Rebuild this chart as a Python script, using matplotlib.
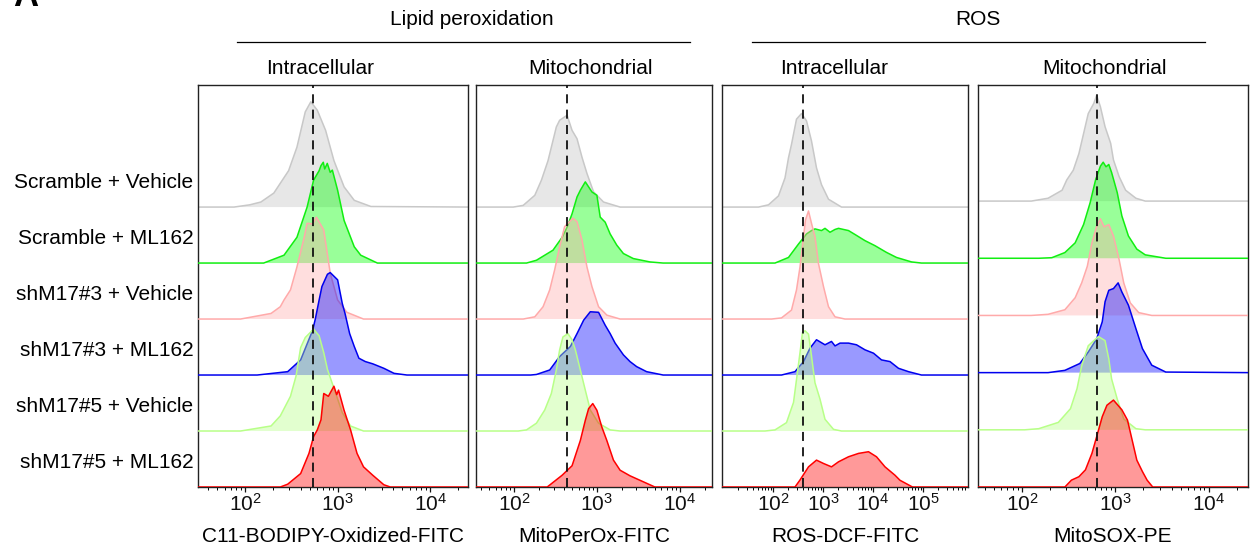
import matplotlib
matplotlib.use('Agg')
import numpy as np
import matplotlib.pyplot as plt
import matplotlib.transforms as mtransforms
from matplotlib.lines import Line2D
from matplotlib.ticker import FixedLocator, LogLocator, LogFormatterMathtext, NullFormatter

plt.rcParams['font.family'] = ['Liberation Sans', 'DejaVu Sans']
plt.rcParams['mathtext.fontset'] = 'custom'
plt.rcParams['mathtext.rm'] = 'Liberation Sans'
plt.rcParams['mathtext.default'] = 'regular'

# ---------------- data ----------------
samples = ['Scramble + Vehicle', 'Scramble + ML162', 'shM17#3 + Vehicle',
           'shM17#3 + ML162', 'shM17#5 + Vehicle', 'shM17#5 + ML162']
group_titles = ['Lipid peroxidation', 'ROS']
panel_titles = ['Intracellular', 'Mitochondrial', 'Intracellular', 'Mitochondrial']
channel_labels = ['C11-BODIPY-Oxidized-FITC', 'MitoPerOx-FITC', 'ROS-DCF-FITC', 'MitoSOX-PE']
major_decades = [[2, 3, 4], [2, 3, 4], [2, 3, 4, 5], [2, 3, 4]]
gate_log10 = [2.73, 2.64, 2.60, 2.80]   # dashed reference line (log10 intensity)

# histograms: log10 intensity and normalised height (one list per sample)
bodipy_log = [
    [1.88, 2.05, 2.17, 2.31, 2.47, 2.56, 2.65, 2.71, 2.78, 2.87, 2.96, 3.07, 3.18, 3.36],
    [2.20, 2.42, 2.56, 2.67, 2.74, 2.80, 2.82, 2.845, 2.86, 2.888, 2.92, 2.943, 3.00, 3.07, 3.18, 3.25, 3.43],
    [1.95, 2.28, 2.38, 2.42, 2.49, 2.56, 2.64, 2.67, 2.73, 2.77, 2.85, 2.92, 3.00, 3.10, 3.28],
    [2.13, 2.46, 2.60, 2.73, 2.76, 2.80, 2.83, 2.89, 2.92, 3.00, 3.05, 3.08, 3.13, 3.18, 3.23, 3.30, 3.38, 3.50, 3.61, 3.75],
    [1.95, 2.28, 2.38, 2.49, 2.55, 2.60, 2.65, 2.74, 2.80, 2.85, 2.89, 2.94, 3.05, 3.14, 3.28],
    [2.38, 2.46, 2.60, 2.69, 2.74, 2.78, 2.82, 2.85, 2.90, 2.96, 2.99, 3.01, 3.07, 3.14, 3.21, 3.28, 3.38, 3.50, 3.57],
]
bodipy_h = [
    [0.00, 0.04, 0.09, 0.25, 0.65, 1.07, 1.70, 1.88, 1.73, 1.37, 0.83, 0.36, 0.12, 0.01],
    [0.00, 0.14, 0.46, 1.00, 1.48, 1.65, 1.74, 1.80, 1.68, 1.78, 1.62, 1.66, 1.30, 0.76, 0.29, 0.14, 0.00],
    [0.00, 0.10, 0.22, 0.34, 0.52, 0.93, 1.47, 1.71, 1.70, 1.82, 1.59, 0.82, 0.34, 0.12, 0.00],
    [0.00, 0.06, 0.27, 0.80, 1.01, 1.34, 1.58, 1.80, 1.83, 1.70, 1.28, 1.10, 0.74, 0.51, 0.30, 0.24, 0.20, 0.12, 0.03, 0.00],
    [0.00, 0.09, 0.27, 0.62, 0.98, 1.49, 1.67, 1.82, 1.70, 1.40, 1.10, 0.86, 0.33, 0.09, 0.00],
    [0.00, 0.05, 0.24, 0.60, 0.90, 1.02, 1.20, 1.67, 1.62, 1.80, 1.65, 1.73, 1.37, 1.02, 0.60, 0.36, 0.21, 0.04, 0.00],
]

mitoperox_log = [
    [1.99, 2.11, 2.25, 2.33, 2.41, 2.45, 2.51, 2.55, 2.64, 2.70, 2.76, 2.82, 2.88, 2.96, 3.08, 3.28],
    [2.15, 2.27, 2.47, 2.58, 2.64, 2.70, 2.76, 2.80, 2.86, 2.90, 2.94, 3.00, 3.04, 3.10, 3.16, 3.24, 3.32, 3.44, 3.64, 3.80],
    [2.11, 2.25, 2.35, 2.43, 2.49, 2.55, 2.61, 2.65, 2.71, 2.76, 2.82, 2.88, 2.94, 3.02, 3.12, 3.28],
    [2.20, 2.27, 2.43, 2.55, 2.68, 2.76, 2.84, 2.92, 3.02, 3.10, 3.16, 3.22, 3.32, 3.40, 3.48, 3.60, 3.80],
    [2.05, 2.15, 2.27, 2.37, 2.45, 2.51, 2.55, 2.59, 2.65, 2.70, 2.74, 2.80, 2.86, 2.92, 3.02, 3.16, 3.28],
    [2.40, 2.58, 2.70, 2.80, 2.86, 2.90, 2.95, 3.00, 3.06, 3.12, 3.20, 3.28, 3.40, 3.55, 3.70],
]
mitoperox_h = [
    [0.00, 0.03, 0.21, 0.48, 0.83, 1.07, 1.43, 1.55, 1.64, 1.37, 1.22, 0.89, 0.60, 0.27, 0.09, 0.00],
    [0.00, 0.05, 0.23, 0.46, 0.64, 0.88, 1.18, 1.30, 1.45, 1.36, 1.27, 1.21, 0.82, 0.73, 0.52, 0.32, 0.17, 0.08, 0.02, 0.00],
    [0.00, 0.04, 0.22, 0.52, 0.88, 1.29, 1.65, 1.71, 1.80, 1.74, 1.41, 0.93, 0.58, 0.22, 0.07, 0.00],
    [0.00, 0.01, 0.09, 0.33, 0.51, 0.74, 0.98, 1.13, 1.12, 0.89, 0.74, 0.57, 0.36, 0.24, 0.15, 0.06, 0.00],
    [0.00, 0.02, 0.14, 0.375, 0.67, 1.09, 1.45, 1.68, 1.74, 1.63, 1.45, 1.09, 0.73, 0.375, 0.14, 0.02, 0.00],
    [0.00, 0.21, 0.38, 0.83, 1.19, 1.40, 1.49, 1.37, 1.07, 0.83, 0.48, 0.30, 0.20, 0.10, 0.00],
]

dcf_log = [
    [1.71, 1.91, 2.11, 2.24, 2.31, 2.37, 2.47, 2.57, 2.67, 2.77, 2.87, 2.97, 3.11, 3.37],
    [2.04, 2.31, 2.51, 2.67, 2.77, 2.84, 2.97, 3.04, 3.14, 3.24, 3.31, 3.41, 3.51, 3.64, 3.84, 4.04, 4.27, 4.47, 4.77, 4.97],
    [1.97, 2.17, 2.37, 2.47, 2.54, 2.61, 2.65, 2.71, 2.77, 2.84, 2.91, 3.01, 3.11, 3.24, 3.44],
    [2.17, 2.44, 2.61, 2.74, 2.87, 3.04, 3.17, 3.24, 3.34, 3.51, 3.67, 3.84, 4.01, 4.17, 4.34, 4.51, 4.71, 4.97],
    [1.84, 2.04, 2.27, 2.41, 2.47, 2.54, 2.59, 2.64, 2.71, 2.77, 2.84, 2.94, 3.04, 3.21, 3.37],
    [2.44, 2.54, 2.71, 2.87, 3.01, 3.17, 3.31, 3.51, 3.71, 3.91, 4.07, 4.24, 4.44, 4.54, 4.79],
]
dcf_h = [
    [0.00, 0.04, 0.20, 0.52, 0.88, 1.12, 1.57, 1.67, 1.54, 1.18, 0.70, 0.40, 0.14, 0.00],
    [0.00, 0.10, 0.34, 0.52, 0.58, 0.61, 0.58, 0.62, 0.55, 0.60, 0.62, 0.60, 0.58, 0.51, 0.40, 0.31, 0.19, 0.10, 0.02, 0.00],
    [0.00, 0.02, 0.16, 0.52, 0.93, 1.47, 1.77, 1.93, 1.71, 1.47, 0.99, 0.58, 0.22, 0.04, 0.00],
    [0.00, 0.06, 0.24, 0.48, 0.63, 0.54, 0.60, 0.52, 0.57, 0.57, 0.54, 0.45, 0.39, 0.27, 0.24, 0.12, 0.06, 0.00],
    [0.00, 0.02, 0.15, 0.51, 0.92, 1.40, 1.76, 1.79, 1.73, 1.34, 0.86, 0.57, 0.21, 0.03, 0.00],
    [0.00, 0.125, 0.36, 0.48, 0.42, 0.36, 0.45, 0.54, 0.60, 0.63, 0.54, 0.36, 0.21, 0.12, 0.00],
]

mitosox_log = [
    [2.10, 2.28, 2.43, 2.48, 2.55, 2.61, 2.66, 2.71, 2.77, 2.80, 2.84, 2.89, 2.95, 2.98, 3.04, 3.11, 3.22, 3.32],
    [2.18, 2.32, 2.46, 2.57, 2.66, 2.73, 2.79, 2.84, 2.87, 2.90, 2.93, 2.96, 3.02, 3.07, 3.14, 3.23, 3.32, 3.54],
    [2.10, 2.28, 2.46, 2.57, 2.64, 2.70, 2.75, 2.80, 2.84, 2.88, 2.93, 2.98, 3.04, 3.09, 3.16, 3.25, 3.39],
    [2.28, 2.46, 2.62, 2.71, 2.80, 2.86, 2.89, 2.93, 2.98, 3.03, 3.07, 3.14, 3.22, 3.29, 3.39, 3.54],
    [2.03, 2.18, 2.39, 2.52, 2.59, 2.64, 2.71, 2.77, 2.82, 2.89, 2.93, 2.96, 3.02, 3.09, 3.22, 3.32],
    [2.46, 2.53, 2.61, 2.68, 2.75, 2.80, 2.86, 2.91, 2.98, 3.07, 3.13, 3.18, 3.23, 3.29, 3.34, 3.40],
]
mitosox_h = [
    [0.00, 0.05, 0.19, 0.37, 0.54, 0.83, 1.18, 1.53, 1.71, 1.85, 1.65, 1.30, 1.01, 0.72, 0.43, 0.19, 0.05, 0.00],
    [0.00, 0.01, 0.10, 0.27, 0.59, 0.97, 1.38, 1.61, 1.68, 1.60, 1.64, 1.50, 1.15, 0.74, 0.39, 0.16, 0.06, 0.00],
    [0.00, 0.02, 0.10, 0.31, 0.57, 0.86, 1.27, 1.56, 1.69, 1.55, 1.59, 1.39, 0.98, 0.57, 0.22, 0.05, 0.00],
    [0.00, 0.04, 0.16, 0.36, 0.59, 0.89, 1.24, 1.44, 1.47, 1.57, 1.41, 1.18, 0.77, 0.42, 0.13, 0.01],
    [0.00, 0.02, 0.13, 0.37, 0.72, 1.12, 1.47, 1.56, 1.63, 1.56, 1.24, 0.89, 0.54, 0.19, 0.02, 0.00],
    [0.00, 0.12, 0.18, 0.30, 0.59, 0.88, 1.23, 1.43, 1.52, 1.35, 1.17, 0.82, 0.47, 0.27, 0.12, 0.00],
]

panel_logs = [bodipy_log, mitoperox_log, dcf_log, mitosox_log]
panel_heights = [bodipy_h, mitoperox_h, dcf_h, mitosox_h]

# ---------------- styling ----------------
fill_colors = ['#c0c0c0', '#00ff00', '#ffaaaa', '#0000ff', '#b8ff88', '#ff0000']
fill_alphas = [0.38, 0.40, 0.38, 0.40, 0.40, 0.40]
edge_colors = ['#c8c8c8', '#11ee11', '#ffaaaa', '#0000ee', '#b8ff88', '#ff0000']

W, H, DPI = 1252, 553, 100
fig = plt.figure(figsize=(W / DPI, H / DPI), dpi=DPI)

ax_px = [(198, 270), (476, 236), (722, 246), (978, 270)]   # left, width in px
ax_top, ax_bot = 85, 487
xlims_log = [(1.49, 4.41), (1.54, 4.39), (0.98, 5.90), (1.53, 4.42)]
ytops = [7.18, 7.18, 7.18, 7.03]
n = len(samples)

axes = []
for p in range(4):
    l, w = ax_px[p]
    ax = fig.add_axes([l / W, 1 - ax_bot / H, w / W, (ax_bot - ax_top) / H])
    axes.append(ax)
    ax.set_xscale('log')
    x0, x1 = 10 ** xlims_log[p][0], 10 ** xlims_log[p][1]
    ax.set_xlim(x0, x1)
    ax.set_ylim(0, ytops[p])
    for i in range(n):
        base = n - 1 - i
        xs = 10 ** np.array(panel_logs[p][i])
        hs = np.array(panel_heights[p][i])
        ax.fill_between(xs, base, base + hs, facecolor=fill_colors[i],
                        alpha=fill_alphas[i], linewidth=0, zorder=2 + i)
        xline = np.concatenate([[x0], xs, [x1]])
        yline = np.concatenate([[base], base + hs, [base]])
        ax.plot(xline, yline, color=edge_colors[i], lw=1.1, zorder=2.5 + i,
                solid_joinstyle='round')
    ax.axvline(10 ** gate_log10[p], color='#111111', lw=1.3,
               linestyle=(0, (5, 3.5)), zorder=20)
    ax.yaxis.set_visible(False)
    ax.xaxis.set_major_locator(FixedLocator([10.0 ** d for d in major_decades[p]]))
    ax.xaxis.set_major_formatter(LogFormatterMathtext())
    ax.xaxis.set_minor_locator(LogLocator(base=10, subs=np.arange(2, 10), numticks=20))
    ax.xaxis.set_minor_formatter(NullFormatter())
    ax.tick_params(axis='x', which='major', direction='out', length=3.6, width=0.9,
                   labelsize=15, pad=1.0, colors='#111111')
    ax.tick_params(axis='x', which='minor', direction='out', length=2.0, width=0.7)
    for s in ax.spines.values():
        s.set_linewidth(1.0)
        s.set_color('#222222')
    ax.set_xlabel(channel_labels[p], fontsize=15, labelpad=8.5)

# row labels
trans = mtransforms.blended_transform_factory(axes[0].transAxes, axes[0].transData)
for i, s in enumerate(samples):
    base = n - 1 - i
    axes[0].text(-0.018, base + 0.34, s, transform=trans, ha='right',
                 va='baseline', fontsize=15)

# panel subtitles
sub_cx = [320, 591, 834, 1105]
for cx, t in zip(sub_cx, panel_titles):
    fig.text(cx / W, 1 - 74 / H, t, ha='center', va='baseline', fontsize=15)

# group titles with underline
group_cx = [472, 978]
group_lines = [(237, 690), (752, 1205)]
for cx, t, (a, b) in zip(group_cx, group_titles, group_lines):
    fig.text(cx / W, 1 - 25 / H, t, ha='center', va='baseline', fontsize=15)
    fig.add_artist(Line2D([a / W, b / W], [1 - 41.5 / H, 1 - 41.5 / H],
                          color='black', lw=0.9, transform=fig.transFigure))

fig.text(13 / W, 1 - 6 / H, 'A', fontsize=25, fontweight='bold', va='baseline')

fig.savefig('out.png', dpi=DPI)
